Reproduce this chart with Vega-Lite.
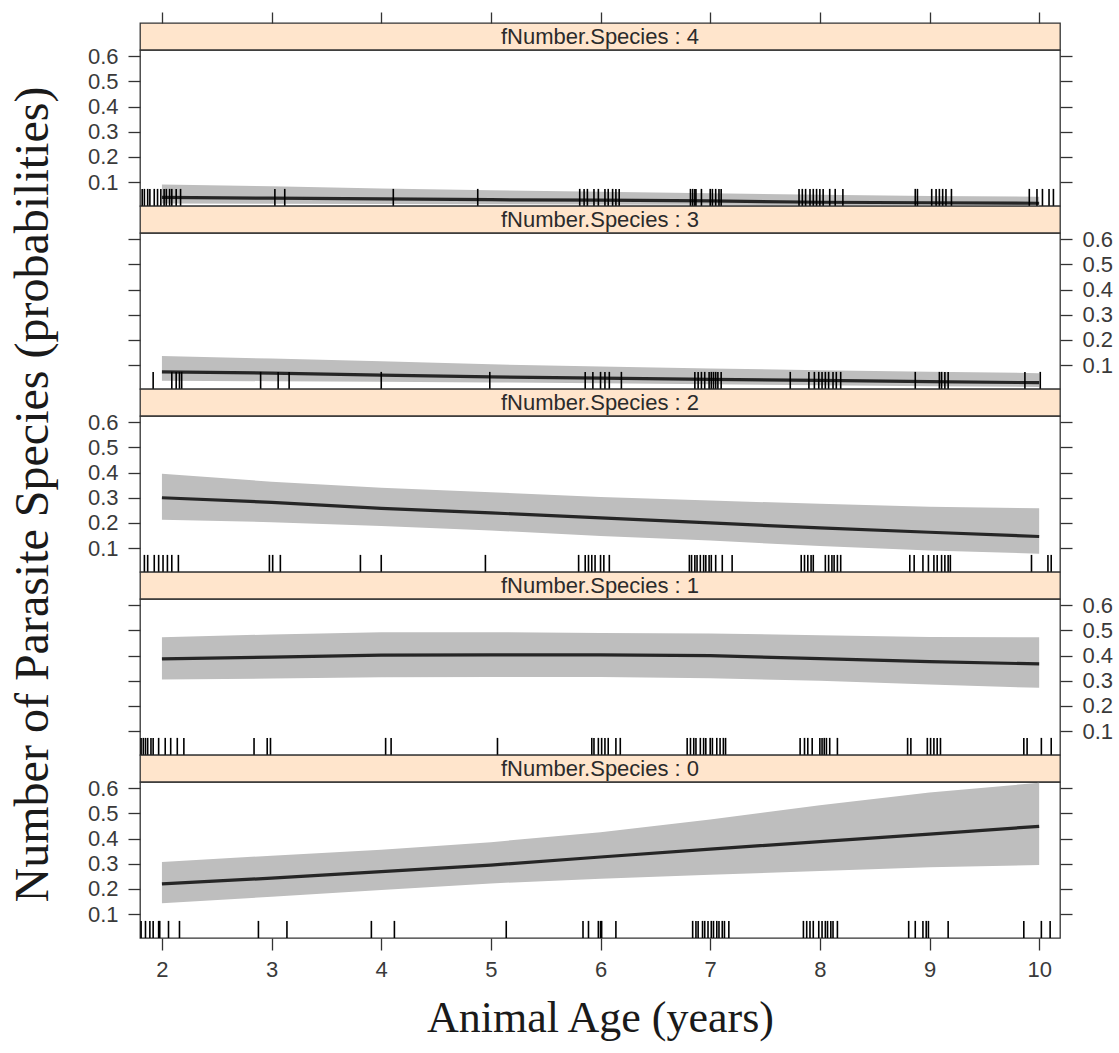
{
  "$schema": "https://vega.github.io/schema/vega-lite/v6.json",
  "background": "white",
  "padding": {"left": 8, "top": 10, "right": 10, "bottom": 8},
  "spacing": 0,
  "bounds": "flush",
  "datasets": {
    "strips": [
      {"p": 4, "label": "fNumber.Species : 4"},
      {"p": 3, "label": "fNumber.Species : 3"},
      {"p": 2, "label": "fNumber.Species : 2"},
      {"p": 1, "label": "fNumber.Species : 1"},
      {"p": 0, "label": "fNumber.Species : 0"}
    ],
    "fit": [
      {"p": 0, "age": 2, "fit": 0.220, "lo": 0.143, "hi": 0.307},
      {"p": 0, "age": 3, "fit": 0.243, "lo": 0.169, "hi": 0.332},
      {"p": 0, "age": 4, "fit": 0.269, "lo": 0.196, "hi": 0.356},
      {"p": 0, "age": 5, "fit": 0.295, "lo": 0.222, "hi": 0.386},
      {"p": 0, "age": 6, "fit": 0.327, "lo": 0.240, "hi": 0.425},
      {"p": 0, "age": 7, "fit": 0.358, "lo": 0.256, "hi": 0.476},
      {"p": 0, "age": 8, "fit": 0.388, "lo": 0.271, "hi": 0.533},
      {"p": 0, "age": 9, "fit": 0.418, "lo": 0.286, "hi": 0.583},
      {"p": 0, "age": 10, "fit": 0.449, "lo": 0.295, "hi": 0.622},
      {"p": 1, "age": 2, "fit": 0.387, "lo": 0.305, "hi": 0.473},
      {"p": 1, "age": 3, "fit": 0.394, "lo": 0.309, "hi": 0.484},
      {"p": 1, "age": 4, "fit": 0.402, "lo": 0.314, "hi": 0.493},
      {"p": 1, "age": 5, "fit": 0.403, "lo": 0.315, "hi": 0.493},
      {"p": 1, "age": 6, "fit": 0.403, "lo": 0.315, "hi": 0.490},
      {"p": 1, "age": 7, "fit": 0.400, "lo": 0.310, "hi": 0.488},
      {"p": 1, "age": 8, "fit": 0.388, "lo": 0.300, "hi": 0.481},
      {"p": 1, "age": 9, "fit": 0.376, "lo": 0.285, "hi": 0.474},
      {"p": 1, "age": 10, "fit": 0.367, "lo": 0.272, "hi": 0.473},
      {"p": 2, "age": 2, "fit": 0.300, "lo": 0.213, "hi": 0.395},
      {"p": 2, "age": 3, "fit": 0.282, "lo": 0.203, "hi": 0.364},
      {"p": 2, "age": 4, "fit": 0.258, "lo": 0.188, "hi": 0.340},
      {"p": 2, "age": 5, "fit": 0.240, "lo": 0.170, "hi": 0.322},
      {"p": 2, "age": 6, "fit": 0.220, "lo": 0.148, "hi": 0.303},
      {"p": 2, "age": 7, "fit": 0.200, "lo": 0.130, "hi": 0.289},
      {"p": 2, "age": 8, "fit": 0.180, "lo": 0.108, "hi": 0.276},
      {"p": 2, "age": 9, "fit": 0.163, "lo": 0.090, "hi": 0.264},
      {"p": 2, "age": 10, "fit": 0.146, "lo": 0.078, "hi": 0.258},
      {"p": 3, "age": 2, "fit": 0.073, "lo": 0.038, "hi": 0.136},
      {"p": 3, "age": 3, "fit": 0.068, "lo": 0.036, "hi": 0.126},
      {"p": 3, "age": 4, "fit": 0.060, "lo": 0.034, "hi": 0.115},
      {"p": 3, "age": 5, "fit": 0.053, "lo": 0.031, "hi": 0.103},
      {"p": 3, "age": 6, "fit": 0.048, "lo": 0.028, "hi": 0.094},
      {"p": 3, "age": 7, "fit": 0.043, "lo": 0.024, "hi": 0.086},
      {"p": 3, "age": 8, "fit": 0.039, "lo": 0.020, "hi": 0.080},
      {"p": 3, "age": 9, "fit": 0.034, "lo": 0.016, "hi": 0.074},
      {"p": 3, "age": 10, "fit": 0.030, "lo": 0.013, "hi": 0.068},
      {"p": 4, "age": 2, "fit": 0.039, "lo": 0.015, "hi": 0.090},
      {"p": 4, "age": 3, "fit": 0.036, "lo": 0.014, "hi": 0.083},
      {"p": 4, "age": 4, "fit": 0.033, "lo": 0.013, "hi": 0.075},
      {"p": 4, "age": 5, "fit": 0.030, "lo": 0.012, "hi": 0.068},
      {"p": 4, "age": 6, "fit": 0.028, "lo": 0.011, "hi": 0.062},
      {"p": 4, "age": 7, "fit": 0.025, "lo": 0.010, "hi": 0.056},
      {"p": 4, "age": 8, "fit": 0.020, "lo": 0.008, "hi": 0.050},
      {"p": 4, "age": 9, "fit": 0.018, "lo": 0.007, "hi": 0.045},
      {"p": 4, "age": 10, "fit": 0.016, "lo": 0.006, "hi": 0.042}
    ],
    "rug": [
      {"p":0,"age":1.81},{"p":0,"age":1.85},{"p":0,"age":1.89},{"p":0,"age":1.92},{"p":0,"age":1.97},{"p":0,"age":1.98},{"p":0,"age":2.06},{"p":0,"age":2.16},{"p":0,"age":2.88},{"p":0,"age":3.14},{"p":0,"age":3.91},{"p":0,"age":4.12},{"p":0,"age":5.14},{"p":0,"age":5.84},{"p":0,"age":5.89},{"p":0,"age":5.98},{"p":0,"age":6.0},{"p":0,"age":6.01},{"p":0,"age":6.14},{"p":0,"age":6.84},{"p":0,"age":6.87},{"p":0,"age":6.89},{"p":0,"age":6.93},{"p":0,"age":6.95},{"p":0,"age":6.98},{"p":0,"age":7.01},{"p":0,"age":7.03},{"p":0,"age":7.06},{"p":0,"age":7.08},{"p":0,"age":7.11},{"p":0,"age":7.13},{"p":0,"age":7.17},{"p":0,"age":7.85},{"p":0,"age":7.88},{"p":0,"age":7.91},{"p":0,"age":7.94},{"p":0,"age":7.99},{"p":0,"age":8.02},{"p":0,"age":8.05},{"p":0,"age":8.07},{"p":0,"age":8.1},{"p":0,"age":8.12},{"p":0,"age":8.16},{"p":0,"age":8.81},{"p":0,"age":8.87},{"p":0,"age":8.94},{"p":0,"age":8.97},{"p":0,"age":8.99},{"p":0,"age":9.17},{"p":0,"age":9.86},{"p":0,"age":10.02},{"p":0,"age":10.1},
      {"p":1,"age":1.81},{"p":1,"age":1.83},{"p":1,"age":1.85},{"p":1,"age":1.87},{"p":1,"age":1.9},{"p":1,"age":1.92},{"p":1,"age":1.97},{"p":1,"age":2.03},{"p":1,"age":2.08},{"p":1,"age":2.14},{"p":1,"age":2.2},{"p":1,"age":2.84},{"p":1,"age":2.96},{"p":1,"age":2.99},{"p":1,"age":4.04},{"p":1,"age":4.09},{"p":1,"age":5.06},{"p":1,"age":5.92},{"p":1,"age":5.94},{"p":1,"age":5.98},{"p":1,"age":6.01},{"p":1,"age":6.04},{"p":1,"age":6.07},{"p":1,"age":6.14},{"p":1,"age":6.18},{"p":1,"age":6.79},{"p":1,"age":6.82},{"p":1,"age":6.85},{"p":1,"age":6.87},{"p":1,"age":6.91},{"p":1,"age":6.94},{"p":1,"age":6.96},{"p":1,"age":7.0},{"p":1,"age":7.02},{"p":1,"age":7.06},{"p":1,"age":7.09},{"p":1,"age":7.12},{"p":1,"age":7.14},{"p":1,"age":7.82},{"p":1,"age":7.86},{"p":1,"age":7.89},{"p":1,"age":7.93},{"p":1,"age":8.0},{"p":1,"age":8.02},{"p":1,"age":8.04},{"p":1,"age":8.06},{"p":1,"age":8.09},{"p":1,"age":8.16},{"p":1,"age":8.8},{"p":1,"age":8.83},{"p":1,"age":8.98},{"p":1,"age":9.01},{"p":1,"age":9.04},{"p":1,"age":9.07},{"p":1,"age":9.1},{"p":1,"age":9.86},{"p":1,"age":9.89},{"p":1,"age":10.02},{"p":1,"age":10.11},
      {"p":2,"age":1.84},{"p":2,"age":1.87},{"p":2,"age":1.93},{"p":2,"age":1.97},{"p":2,"age":2.01},{"p":2,"age":2.05},{"p":2,"age":2.09},{"p":2,"age":2.15},{"p":2,"age":2.98},{"p":2,"age":3.01},{"p":2,"age":3.08},{"p":2,"age":3.81},{"p":2,"age":4.0},{"p":2,"age":4.95},{"p":2,"age":5.8},{"p":2,"age":5.86},{"p":2,"age":5.89},{"p":2,"age":5.92},{"p":2,"age":5.95},{"p":2,"age":6.0},{"p":2,"age":6.03},{"p":2,"age":6.08},{"p":2,"age":6.81},{"p":2,"age":6.83},{"p":2,"age":6.86},{"p":2,"age":6.88},{"p":2,"age":6.91},{"p":2,"age":6.94},{"p":2,"age":6.96},{"p":2,"age":6.99},{"p":2,"age":7.01},{"p":2,"age":7.05},{"p":2,"age":7.11},{"p":2,"age":7.2},{"p":2,"age":7.83},{"p":2,"age":7.86},{"p":2,"age":7.89},{"p":2,"age":7.92},{"p":2,"age":7.94},{"p":2,"age":8.05},{"p":2,"age":8.08},{"p":2,"age":8.11},{"p":2,"age":8.13},{"p":2,"age":8.16},{"p":2,"age":8.19},{"p":2,"age":8.82},{"p":2,"age":8.86},{"p":2,"age":8.94},{"p":2,"age":8.99},{"p":2,"age":9.04},{"p":2,"age":9.07},{"p":2,"age":9.11},{"p":2,"age":9.14},{"p":2,"age":9.17},{"p":2,"age":9.19},{"p":2,"age":9.93},{"p":2,"age":10.08},{"p":2,"age":10.11},
      {"p":3,"age":1.92},{"p":3,"age":2.09},{"p":3,"age":2.13},{"p":3,"age":2.16},{"p":3,"age":2.18},{"p":3,"age":2.9},{"p":3,"age":3.06},{"p":3,"age":3.16},{"p":3,"age":4.0},{"p":3,"age":4.99},{"p":3,"age":5.86},{"p":3,"age":5.93},{"p":3,"age":6.0},{"p":3,"age":6.04},{"p":3,"age":6.08},{"p":3,"age":6.19},{"p":3,"age":6.86},{"p":3,"age":6.89},{"p":3,"age":6.92},{"p":3,"age":6.95},{"p":3,"age":6.99},{"p":3,"age":7.01},{"p":3,"age":7.03},{"p":3,"age":7.05},{"p":3,"age":7.07},{"p":3,"age":7.1},{"p":3,"age":7.73},{"p":3,"age":7.9},{"p":3,"age":7.95},{"p":3,"age":7.99},{"p":3,"age":8.02},{"p":3,"age":8.05},{"p":3,"age":8.08},{"p":3,"age":8.12},{"p":3,"age":8.15},{"p":3,"age":8.19},{"p":3,"age":8.87},{"p":3,"age":9.09},{"p":3,"age":9.11},{"p":3,"age":9.14},{"p":3,"age":9.17},{"p":3,"age":9.87},{"p":3,"age":10.01},
      {"p":4,"age":1.82},{"p":4,"age":1.84},{"p":4,"age":1.87},{"p":4,"age":1.89},{"p":4,"age":1.93},{"p":4,"age":1.96},{"p":4,"age":1.99},{"p":4,"age":2.02},{"p":4,"age":2.04},{"p":4,"age":2.07},{"p":4,"age":2.09},{"p":4,"age":2.13},{"p":4,"age":2.17},{"p":4,"age":3.03},{"p":4,"age":3.12},{"p":4,"age":4.11},{"p":4,"age":4.88},{"p":4,"age":5.81},{"p":4,"age":5.85},{"p":4,"age":5.88},{"p":4,"age":5.94},{"p":4,"age":5.98},{"p":4,"age":6.04},{"p":4,"age":6.07},{"p":4,"age":6.11},{"p":4,"age":6.14},{"p":4,"age":6.17},{"p":4,"age":6.82},{"p":4,"age":6.84},{"p":4,"age":6.86},{"p":4,"age":6.87},{"p":4,"age":6.92},{"p":4,"age":7.0},{"p":4,"age":7.02},{"p":4,"age":7.05},{"p":4,"age":7.08},{"p":4,"age":7.1},{"p":4,"age":7.81},{"p":4,"age":7.84},{"p":4,"age":7.87},{"p":4,"age":7.91},{"p":4,"age":7.94},{"p":4,"age":7.97},{"p":4,"age":8.0},{"p":4,"age":8.03},{"p":4,"age":8.09},{"p":4,"age":8.14},{"p":4,"age":8.21},{"p":4,"age":8.87},{"p":4,"age":8.89},{"p":4,"age":9.02},{"p":4,"age":9.06},{"p":4,"age":9.09},{"p":4,"age":9.12},{"p":4,"age":9.15},{"p":4,"age":9.2},{"p":4,"age":9.91},{"p":4,"age":9.98},{"p":4,"age":10.03},{"p":4,"age":10.09},{"p":4,"age":10.13}
    ]
  },
  "vconcat": [
    {
      "width": 920, "height": 27,
      "view": {"fill": "#ffe5cc", "stroke": "#333333", "strokeWidth": 1.3},
      "data": {"name": "strips"}, "transform": [{"filter": "datum.p == 4"}],
      "mark": {"type": "text", "font": "Liberation Sans", "fontSize": 22, "color": "#2b2b2b", "baseline": "middle"},
      "encoding": {
        "x": {"datum": 5.995, "type": "quantitative", "scale": {"domain": [1.8, 10.19], "nice": false, "zero": false},
              "axis": {"orient": "top", "values": [2, 3, 4, 5, 6, 7, 8, 9, 10], "labels": false, "tickSize": 11, "title": null}},
        "text": {"field": "label"}
      }
    },
    {
      "width": 920, "height": 156,
      "resolve": {"axis": {"y": "independent"}},
      "encoding": {
        "x": {"field": "age", "type": "quantitative", "scale": {"domain": [1.8, 10.19], "nice": false, "zero": false}, "axis": null}
      },
      "layer": [
        {"data": {"name": "fit"}, "transform": [{"filter": "datum.p == 4"}],
         "mark": {"type": "area", "color": "#bebebe", "opacity": 1},
         "encoding": {
           "y": {"field": "lo", "type": "quantitative", "scale": {"domain": [0.005, 0.625], "nice": false, "zero": false},
                 "axis": {"orient": "left", "values": [0.1, 0.2, 0.3, 0.4, 0.5, 0.6], "labels": true, "title": null}},
           "y2": {"field": "hi"}}},
        {"data": {"name": "fit"}, "transform": [{"filter": "datum.p == 4"}],
         "mark": {"type": "line", "color": "#262626", "strokeWidth": 3.2},
         "encoding": {
           "y": {"field": "fit", "type": "quantitative", "scale": {"domain": [0.005, 0.625], "nice": false, "zero": false},
                 "axis": {"orient": "right", "values": [0.1, 0.2, 0.3, 0.4, 0.5, 0.6], "labels": false, "title": null}}}},
        {"data": {"name": "rug"}, "transform": [{"filter": "datum.p == 4"}],
         "mark": {"type": "rule", "color": "#000000", "strokeWidth": 1.6},
         "encoding": {
           "y": {"datum": 0.005, "type": "quantitative", "axis": null},
           "y2": {"datum": 0.073}}}
      ]
    },
    {
      "width": 920, "height": 27,
      "view": {"fill": "#ffe5cc", "stroke": "#333333", "strokeWidth": 1.3},
      "data": {"name": "strips"}, "transform": [{"filter": "datum.p == 3"}],
      "mark": {"type": "text", "font": "Liberation Sans", "fontSize": 22, "color": "#2b2b2b", "baseline": "middle"},
      "encoding": {
        "x": {"datum": 5.995, "type": "quantitative", "scale": {"domain": [1.8, 10.19], "nice": false, "zero": false}, "axis": null},
        "text": {"field": "label"}
      }
    },
    {
      "width": 920, "height": 156,
      "resolve": {"axis": {"y": "independent"}},
      "encoding": {
        "x": {"field": "age", "type": "quantitative", "scale": {"domain": [1.8, 10.19], "nice": false, "zero": false}, "axis": null}
      },
      "layer": [
        {"data": {"name": "fit"}, "transform": [{"filter": "datum.p == 3"}],
         "mark": {"type": "area", "color": "#bebebe", "opacity": 1},
         "encoding": {
           "y": {"field": "lo", "type": "quantitative", "scale": {"domain": [0.005, 0.625], "nice": false, "zero": false},
                 "axis": {"orient": "left", "values": [0.1, 0.2, 0.3, 0.4, 0.5, 0.6], "labels": false, "title": null}},
           "y2": {"field": "hi"}}},
        {"data": {"name": "fit"}, "transform": [{"filter": "datum.p == 3"}],
         "mark": {"type": "line", "color": "#262626", "strokeWidth": 3.2},
         "encoding": {
           "y": {"field": "fit", "type": "quantitative", "scale": {"domain": [0.005, 0.625], "nice": false, "zero": false},
                 "axis": {"orient": "right", "values": [0.1, 0.2, 0.3, 0.4, 0.5, 0.6], "labels": true, "title": null}}}},
        {"data": {"name": "rug"}, "transform": [{"filter": "datum.p == 3"}],
         "mark": {"type": "rule", "color": "#000000", "strokeWidth": 1.6},
         "encoding": {
           "y": {"datum": 0.005, "type": "quantitative", "axis": null},
           "y2": {"datum": 0.073}}}
      ]
    },
    {
      "width": 920, "height": 27,
      "view": {"fill": "#ffe5cc", "stroke": "#333333", "strokeWidth": 1.3},
      "data": {"name": "strips"}, "transform": [{"filter": "datum.p == 2"}],
      "mark": {"type": "text", "font": "Liberation Sans", "fontSize": 22, "color": "#2b2b2b", "baseline": "middle"},
      "encoding": {
        "x": {"datum": 5.995, "type": "quantitative", "scale": {"domain": [1.8, 10.19], "nice": false, "zero": false}, "axis": null},
        "text": {"field": "label"}
      }
    },
    {
      "width": 920, "height": 156,
      "resolve": {"axis": {"y": "independent"}},
      "encoding": {
        "x": {"field": "age", "type": "quantitative", "scale": {"domain": [1.8, 10.19], "nice": false, "zero": false}, "axis": null}
      },
      "layer": [
        {"data": {"name": "fit"}, "transform": [{"filter": "datum.p == 2"}],
         "mark": {"type": "area", "color": "#bebebe", "opacity": 1},
         "encoding": {
           "y": {"field": "lo", "type": "quantitative", "scale": {"domain": [0.005, 0.625], "nice": false, "zero": false},
                 "axis": {"orient": "left", "values": [0.1, 0.2, 0.3, 0.4, 0.5, 0.6], "labels": true,
                          "title": "Number of Parasite Species (probabilities)", "titleFont": "Liberation Serif", "titleFontSize": 48,
                          "titleFontWeight": "normal", "titleColor": "#1a1a1a", "titleBaseline": "alphabetic", "titlePadding": 40}},
           "y2": {"field": "hi"}}},
        {"data": {"name": "fit"}, "transform": [{"filter": "datum.p == 2"}],
         "mark": {"type": "line", "color": "#262626", "strokeWidth": 3.2},
         "encoding": {
           "y": {"field": "fit", "type": "quantitative", "scale": {"domain": [0.005, 0.625], "nice": false, "zero": false},
                 "axis": {"orient": "right", "values": [0.1, 0.2, 0.3, 0.4, 0.5, 0.6], "labels": false, "title": null}}}},
        {"data": {"name": "rug"}, "transform": [{"filter": "datum.p == 2"}],
         "mark": {"type": "rule", "color": "#000000", "strokeWidth": 1.6},
         "encoding": {
           "y": {"datum": 0.005, "type": "quantitative", "axis": null},
           "y2": {"datum": 0.073}}}
      ]
    },
    {
      "width": 920, "height": 27,
      "view": {"fill": "#ffe5cc", "stroke": "#333333", "strokeWidth": 1.3},
      "data": {"name": "strips"}, "transform": [{"filter": "datum.p == 1"}],
      "mark": {"type": "text", "font": "Liberation Sans", "fontSize": 22, "color": "#2b2b2b", "baseline": "middle"},
      "encoding": {
        "x": {"datum": 5.995, "type": "quantitative", "scale": {"domain": [1.8, 10.19], "nice": false, "zero": false}, "axis": null},
        "text": {"field": "label"}
      }
    },
    {
      "width": 920, "height": 156,
      "resolve": {"axis": {"y": "independent"}},
      "encoding": {
        "x": {"field": "age", "type": "quantitative", "scale": {"domain": [1.8, 10.19], "nice": false, "zero": false}, "axis": null}
      },
      "layer": [
        {"data": {"name": "fit"}, "transform": [{"filter": "datum.p == 1"}],
         "mark": {"type": "area", "color": "#bebebe", "opacity": 1},
         "encoding": {
           "y": {"field": "lo", "type": "quantitative", "scale": {"domain": [0.005, 0.625], "nice": false, "zero": false},
                 "axis": {"orient": "left", "values": [0.1, 0.2, 0.3, 0.4, 0.5, 0.6], "labels": false, "title": null}},
           "y2": {"field": "hi"}}},
        {"data": {"name": "fit"}, "transform": [{"filter": "datum.p == 1"}],
         "mark": {"type": "line", "color": "#262626", "strokeWidth": 3.2},
         "encoding": {
           "y": {"field": "fit", "type": "quantitative", "scale": {"domain": [0.005, 0.625], "nice": false, "zero": false},
                 "axis": {"orient": "right", "values": [0.1, 0.2, 0.3, 0.4, 0.5, 0.6], "labels": true, "title": null}}}},
        {"data": {"name": "rug"}, "transform": [{"filter": "datum.p == 1"}],
         "mark": {"type": "rule", "color": "#000000", "strokeWidth": 1.6},
         "encoding": {
           "y": {"datum": 0.005, "type": "quantitative", "axis": null},
           "y2": {"datum": 0.073}}}
      ]
    },
    {
      "width": 920, "height": 27,
      "view": {"fill": "#ffe5cc", "stroke": "#333333", "strokeWidth": 1.3},
      "data": {"name": "strips"}, "transform": [{"filter": "datum.p == 0"}],
      "mark": {"type": "text", "font": "Liberation Sans", "fontSize": 22, "color": "#2b2b2b", "baseline": "middle"},
      "encoding": {
        "x": {"datum": 5.995, "type": "quantitative", "scale": {"domain": [1.8, 10.19], "nice": false, "zero": false}, "axis": null},
        "text": {"field": "label"}
      }
    },
    {
      "width": 920, "height": 156,
      "resolve": {"axis": {"y": "independent"}},
      "encoding": {
        "x": {"field": "age", "type": "quantitative", "scale": {"domain": [1.8, 10.19], "nice": false, "zero": false},
              "axis": {"orient": "bottom", "values": [2, 3, 4, 5, 6, 7, 8, 9, 10], "format": "d", "tickSize": 12, "labelPadding": 9,
                       "title": "Animal Age (years)", "titleFont": "Liberation Serif", "titleFontSize": 44, "titleFontWeight": "normal",
                       "titleColor": "#1a1a1a", "titlePadding": 16}}
      },
      "layer": [
        {"data": {"name": "fit"}, "transform": [{"filter": "datum.p == 0"}],
         "mark": {"type": "area", "color": "#bebebe", "opacity": 1},
         "encoding": {
           "y": {"field": "lo", "type": "quantitative", "scale": {"domain": [0.005, 0.625], "nice": false, "zero": false},
                 "axis": {"orient": "left", "values": [0.1, 0.2, 0.3, 0.4, 0.5, 0.6], "labels": true, "title": null}},
           "y2": {"field": "hi"}}},
        {"data": {"name": "fit"}, "transform": [{"filter": "datum.p == 0"}],
         "mark": {"type": "line", "color": "#262626", "strokeWidth": 3.2},
         "encoding": {
           "y": {"field": "fit", "type": "quantitative", "scale": {"domain": [0.005, 0.625], "nice": false, "zero": false},
                 "axis": {"orient": "right", "values": [0.1, 0.2, 0.3, 0.4, 0.5, 0.6], "labels": false, "title": null}}}},
        {"data": {"name": "rug"}, "transform": [{"filter": "datum.p == 0"}],
         "mark": {"type": "rule", "color": "#000000", "strokeWidth": 1.6},
         "encoding": {
           "y": {"datum": 0.005, "type": "quantitative", "axis": null},
           "y2": {"datum": 0.073}}}
      ]
    }
  ],
  "config": {
    "view": {"stroke": "#333333", "strokeWidth": 1.3},
    "axis": {"domain": false, "grid": false, "tickColor": "#333333", "tickWidth": 1.3, "tickSize": 12,
             "labelFont": "Liberation Sans", "labelFontSize": 22, "labelColor": "#3a3a3a", "labelPadding": 10,
             "labelOverlap": false, "labelFlush": false}
  }
}
